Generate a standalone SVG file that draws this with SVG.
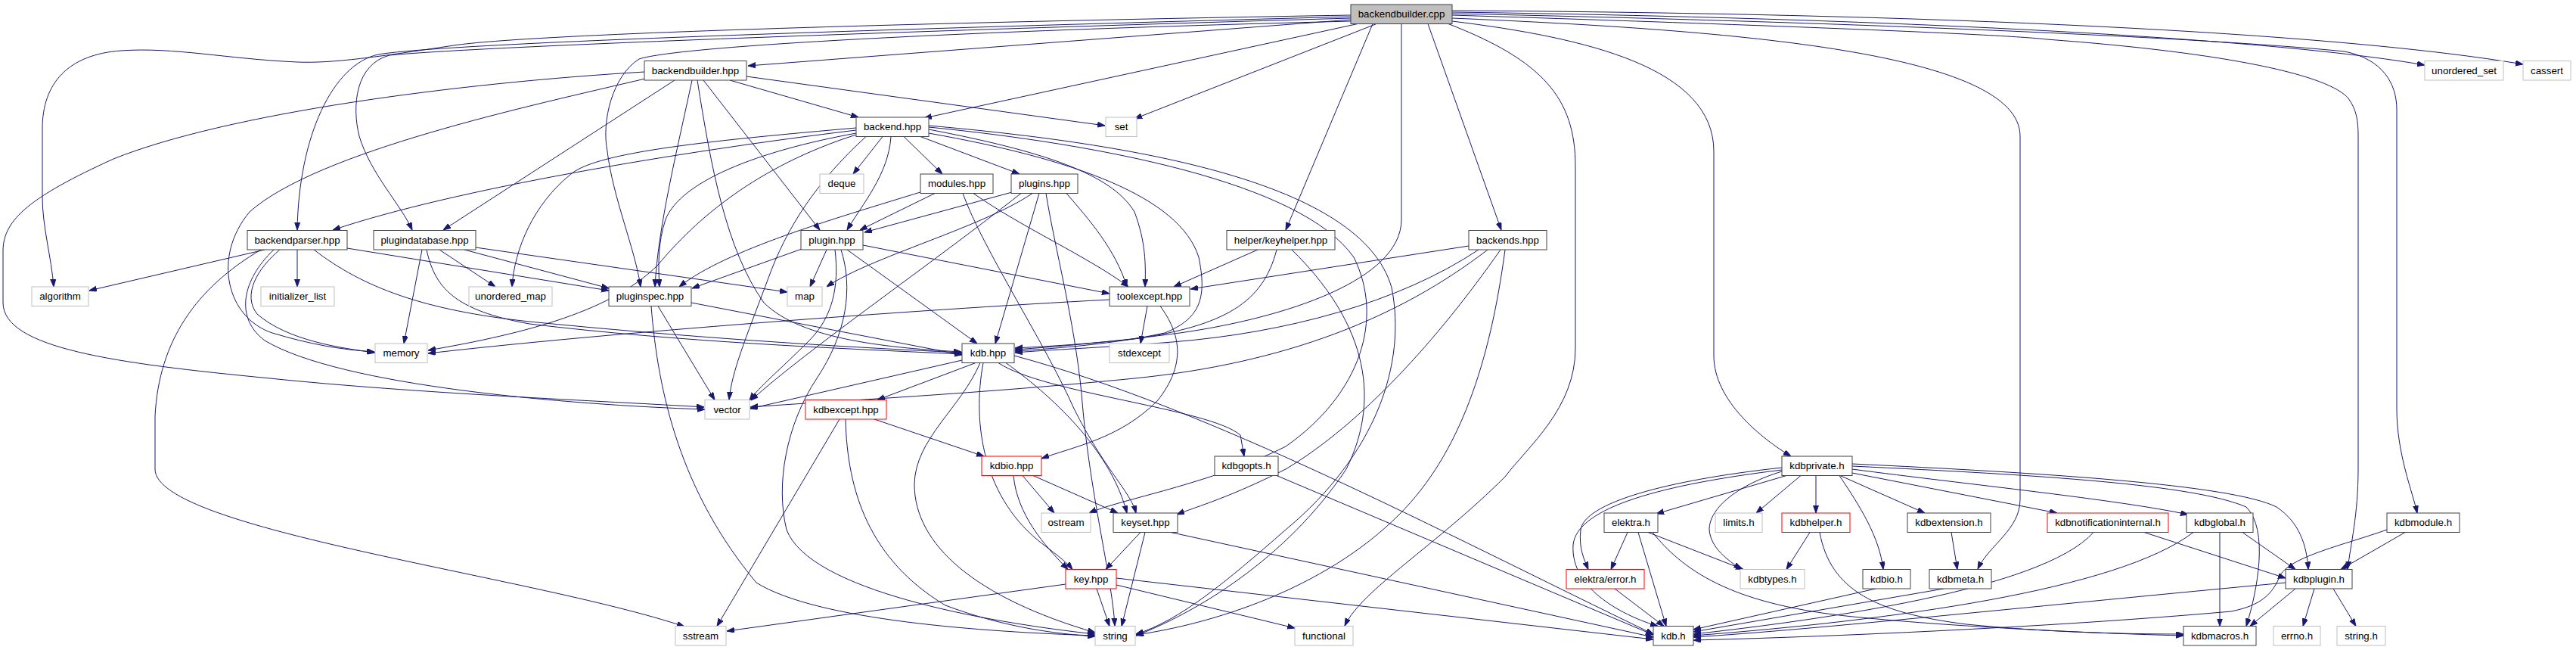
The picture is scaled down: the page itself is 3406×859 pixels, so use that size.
<svg xmlns="http://www.w3.org/2000/svg" width="3406" height="859" viewBox="0 0 3406 859">
<style>
.nd rect{fill:#ffffff;stroke:#404040;stroke-width:1}
.ex rect{fill:#ffffff;stroke:#bfbfbf;stroke-width:1}
.tr rect{fill:#ffffff;stroke:#ff0000;stroke-width:1}
.rt rect{fill:#bfbfbf;stroke:#404040;stroke-width:1}
text{font-family:"Liberation Sans",Arial,Helvetica,sans-serif;font-size:13.3px;text-anchor:middle;fill:#000000}
#edges path{fill:none;stroke:#191970;stroke-width:1;marker-end:url(#ah)}
</style>
<defs>
<marker id="ah" markerWidth="10" markerHeight="8" refX="10" refY="3.5" orient="auto" markerUnits="userSpaceOnUse"><path d="M0,0 L10,3.5 L0,7 z" fill="#191970" stroke="#191970" stroke-width="1"/></marker>
</defs>
<rect x="0" y="0" width="3406" height="859" fill="#ffffff"/>
<g id="edges">
<!-- backendbuilder.cpp -->
<path d="M1786,26 L989,87"/>
<path d="M1820,31.5 L1500,157"/>
<path d="M1795,31.5 L1222,156"/>
<path d="M1786,22 C1300,35 600,55 500,72 C440,85 395,180 393,304"/>
<path d="M1786,24 C1300,38 650,60 515,73 C470,85 465,140 475,180 C490,230 530,270 545,304"/>
<path d="M1786,20 C1200,30 700,45 600,60 C500,75 440,84 393,82 C300,78 230,62 160,67 C90,72 56,110 56,170 L56,260 C56,300 68,340 71,379"/>
<path d="M1786,28 C1300,40 900,60 845,78 C810,100 795,160 803,200 C810,260 840,330 847,379"/>
<path d="M1815,31.5 L1700,304"/>
<path d="M1853,31.5 L1853,290 C1853,370 1700,420 1560,440 C1470,452 1400,458 1342,462"/>
<path d="M1888,31.5 L1985,304"/>
<path d="M1915,31.5 C2040,80 2083,130 2083,220 L2083,460 C2083,540 2020,590 1990,630 C1900,720 1800,780 1778,827"/>
<path d="M1920,28 C2100,50 2266,90 2266,200 L2266,470 C2266,530 2330,580 2368,603"/>
<path d="M1920,24 C2300,40 2671,70 2671,180 L2671,660 C2671,700 2630,720 2615,752"/>
<path d="M1920,20 C2300,32 2650,45 2706,52 C2950,70 3080,100 3105,130 C3116,145 3118,160 3118,180 L3118,620 C3118,680 3108,720 3104,752"/>
<path d="M1920,18 C2400,28 2900,48 3100,68 C3150,78 3169,110 3169,145 L3169,540 C3169,600 3190,650 3196,678"/>
<path d="M1920,16 C2500,24 3000,50 3206,86"/>
<path d="M1920,14 C2600,18 3100,45 3336,85"/>
<!-- backendbuilder.hpp -->
<path d="M965,106 L1135,155"/>
<path d="M987,101 L1461,166"/>
<path d="M930,106 L1084,304"/>
<path d="M915,106 C895,200 870,300 866,379"/>
<path d="M922,106 C940,220 960,330 1010,400 C1060,450 1180,460 1271,465"/>
<path d="M892,106 L586,304"/>
<path d="M853,104 C700,140 420,200 330,280 C280,340 300,420 360,440 C410,455 450,462 495,465"/>
<path d="M852,95 C600,110 300,150 150,210 C40,260 5,290 4,330 L4,400 C4,460 150,480 357,500 C550,520 800,530 931,538"/>
<!-- backend.hpp -->
<path d="M1167,180.5 L1128,230"/>
<path d="M1195,180.5 L1246,230"/>
<path d="M1217,180.5 L1348,230"/>
<path d="M1178,180.5 C1175,230 1140,270 1120,304"/>
<path d="M1132,172 C900,200 600,250 440,304"/>
<path d="M1132,169 C950,185 790,200 755,230 C705,270 680,330 677,379"/>
<path d="M1132,176 C1000,200 900,240 880,290 C870,320 870,350 872,379"/>
<path d="M1132,178 C1000,220 920,290 870,350 C810,410 700,440 566,463"/>
<path d="M1145,180.5 C1080,240 1040,300 1015,370 C985,450 968,490 964,528"/>
<path d="M1228,171 C1380,200 1470,230 1500,280 C1515,320 1515,350 1514,379"/>
<path d="M1228,176 C1420,210 1560,260 1585,340 C1595,390 1590,420 1540,440 C1470,455 1400,460 1342,464"/>
<path d="M1228,166 C1500,190 1800,240 1840,380 C1860,480 1820,600 1700,700 C1620,770 1560,820 1502,838"/>
<path d="M1228,168 C1450,190 1720,240 1790,340 C1830,420 1800,520 1700,590 C1600,640 1480,660 1440,678"/>
<!-- modules.hpp -->
<path d="M1220,253 C1100,290 960,330 898,379"/>
<path d="M1236,255.5 L1137,304"/>
<path d="M1273,255.5 C1300,330 1380,450 1420,540 C1460,620 1495,650 1502,678"/>
<path d="M1287,255.5 C1350,300 1440,340 1492,379"/>
<!-- plugins.hpp -->
<path d="M1338,254 L1143,307"/>
<path d="M1350,255.5 C1230,350 1070,460 993,529"/>
<path d="M1365,255.5 C1300,300 1150,340 1093,379"/>
<path d="M1374,255.5 L1316,454"/>
<path d="M1383,255.5 C1395,330 1420,420 1430,520 C1440,650 1470,760 1474,827"/>
<path d="M1410,255.5 C1440,290 1475,330 1490,379"/>
<!-- plugin.hpp -->
<path d="M1060,329 L915,381"/>
<path d="M1093,330 L1071,379"/>
<path d="M1104,330 C1110,380 1100,420 1070,450 C1030,490 1005,510 991,529"/>
<path d="M1112,330 C1128,380 1120,440 1080,500 C1040,560 1025,640 1040,700 C1070,780 1300,822 1448,838"/>
<path d="M1120,330 L1292,454"/>
<path d="M1141,324 L1467,388"/>
<!-- backendparser.hpp -->
<path d="M350,330 L118,384"/>
<path d="M393,330 L393,379"/>
<path d="M370,330 C340,355 320,390 340,415 C380,450 450,460 496,466"/>
<path d="M362,330 C320,370 310,420 350,450 C450,510 750,535 932,541"/>
<path d="M345,330 C260,380 210,450 205,550 L205,620 C205,700 700,760 905,828"/>
<path d="M415,330 C480,380 560,410 700,425 C900,445 1100,458 1272,466"/>
<path d="M459,328 L805,384"/>
<!-- plugindatabase.hpp -->
<path d="M581,330 L655,379"/>
<path d="M558,330 L534,454"/>
<path d="M564,330 C575,380 600,410 700,428 C900,452 1100,460 1272,468"/>
<path d="M629,327 L1041,386"/>
<path d="M614,330 L805,381"/>
<!-- pluginspec.hpp -->
<path d="M870,404.5 L945,528.5"/>
<path d="M861,404.5 C870,520 900,650 1000,770 C1080,820 1300,835 1448,840"/>
<path d="M914,400 L1272,469"/>
<!-- toolexcept.hpp -->
<path d="M1467,396 C1200,410 800,440 566,467"/>
<path d="M1517,404.5 L1508,454"/>
<path d="M1534,404.5 C1560,440 1570,480 1530,530 C1480,580 1420,590 1377,606"/>
<!-- kdb.hpp -->
<path d="M1272,476 L992,540"/>
<path d="M1290,479.5 L1160,528.5"/>
<path d="M1320,479.5 C1380,520 1600,540 1640,575 L1645,603"/>
<path d="M1330,479.5 C1400,530 1470,600 1490,678"/>
<path d="M1300,479.5 C1285,560 1300,660 1380,720 C1400,735 1412,745 1418,752.5"/>
<path d="M1296,479.5 C1270,540 1210,580 1209,640 C1209,720 1290,790 1448,836"/>
<path d="M1341,470 C1600,540 1900,700 2186,838"/>
<!-- kdbexcept.hpp -->
<path d="M1156,554 L1301,603"/>
<path d="M1110,554 L948,827.5"/>
<path d="M1118,554 C1120,650 1150,740 1250,800 C1330,830 1400,838 1448,841"/>
<!-- kdbio.hpp -->
<path d="M1352,628.5 L1394,678"/>
<path d="M1366,628.5 L1478,678"/>
<path d="M1340,628.5 C1345,680 1380,720 1412,752.5"/>
<!-- kdbgopts.h -->
<path d="M1688,628.5 L2186,839"/>
<!-- keyset.hpp -->
<path d="M1508,703.5 L1462,752.5"/>
<path d="M1514,703.5 L1483,827.5"/>
<path d="M1548,703.5 L2186,842"/>
<!-- key.hpp -->
<path d="M1409,772 L961,834"/>
<path d="M1450,778 L1467,827.5"/>
<path d="M1476,773 L1712,830"/>
<path d="M1476,764 L2186,845"/>
<!-- helper/keyhelper.hpp -->
<path d="M1663,330 L1552,379"/>
<path d="M1688,330 C1670,400 1620,430 1500,448 C1420,456 1380,458 1342,460"/>
<path d="M1708,330 C1800,420 1830,520 1780,620 C1700,740 1580,810 1502,840"/>
<!-- backends.hpp -->
<path d="M1942,325 L1574,382"/>
<path d="M1967,330 C1850,420 1700,480 1500,500 C1300,520 1100,530 992,538"/>
<path d="M1984,330 C1900,450 1800,560 1700,620 C1620,660 1580,670 1556,680"/>
<path d="M1990,330 C1970,480 1930,600 1850,680 C1750,780 1600,825 1502,839"/>
<path d="M1955,330 C1850,400 1700,440 1550,452 C1450,460 1390,462 1342,466"/>
<!-- kdbprivate.h -->
<path d="M2362,628.5 L2190,679"/>
<path d="M2381,628.5 L2322,678"/>
<path d="M2401,628.5 L2401,678"/>
<path d="M2433,628.5 L2545,678"/>
<path d="M2449,625 L2720,678"/>
<path d="M2449,620 C2600,640 2800,660 2893,680"/>
<path d="M2449,613 C2700,625 2950,640 3010,670 C3040,690 3050,720 3052,752.5"/>
<path d="M2449,616 C2700,628 2900,640 2970,670 C3000,700 2985,780 2970,827.5"/>
<path d="M2432,628.5 C2460,670 2485,710 2490,752.5"/>
<path d="M2356,623 C2300,640 2260,670 2260,700 C2262,725 2285,740 2302,752.5"/>
<path d="M2356,618 C2200,635 2095,665 2090,700 C2087,725 2095,740 2100,752.5"/>
<path d="M2356,621 C2200,640 2085,670 2080,720 C2076,780 2150,815 2192,827.5"/>
<!-- elektra.h -->
<path d="M2152,703.5 L2130,752.5"/>
<path d="M2179,703.5 L2305,752.5"/>
<path d="M2166,703.5 L2203,827.5"/>
<path d="M2185,703.5 C2230,760 2300,800 2450,815 C2600,830 2800,838 2887,840"/>
<!-- kdbhelper.h -->
<path d="M2393,703.5 L2362,752.5"/>
<path d="M2406,703.5 C2420,780 2480,810 2600,825 C2700,835 2800,838 2887,838"/>
<!-- kdbextension.h -->
<path d="M2580,703.5 L2588,752.5"/>
<!-- kdbnotificationinternal.h -->
<path d="M2768,703.5 C2700,780 2400,820 2239,838"/>
<path d="M2835,703.5 L3022,764"/>
<!-- kdbglobal.h -->
<path d="M2900,703.5 C2800,780 2500,820 2239,840"/>
<path d="M2935,703.5 L2935,827.5"/>
<path d="M2965,703.5 L3035,752.5"/>
<!-- kdbmodule.h -->
<path d="M3180,703.5 L3095,752.5"/>
<path d="M3156,700 C3100,720 3030,735 3015,760 C3005,785 2990,800 2950,808 C2700,830 2400,842 2239,846"/>
<!-- kdbplugin.h -->
<path d="M3022,770 C2700,800 2400,832 2239,842"/>
<path d="M3035,778 L2975,827.5"/>
<path d="M3060,778 L3045,827.5"/>
<path d="M3085,778 L3115,827.5"/>
<!-- leaf h headers -->
<path d="M2135,778 L2200,827.5"/>
<path d="M2480,778 L2239,832"/>
<path d="M2570,778 L2239,835"/>
</g>
<g id="n0" class="rt"><rect x="1786" y="6" width="134" height="25.5"/><text x="1853" y="23.4">backendbuilder.cpp</text></g>
<g id="n1" class="nd"><rect x="852" y="80.5" width="135" height="25.5"/><text x="919.5" y="97.9">backendbuilder.hpp</text></g>
<g id="n2" class="ex"><rect x="1462" y="155" width="41" height="25.5"/><text x="1482.5" y="172.4">set</text></g>
<g id="n3" class="nd"><rect x="1132" y="155" width="96" height="25.5"/><text x="1180" y="172.4">backend.hpp</text></g>
<g id="n4" class="ex"><rect x="1084" y="230" width="58" height="25.5"/><text x="1113" y="247.4">deque</text></g>
<g id="n5" class="nd"><rect x="1217" y="230" width="96" height="25.5"/><text x="1265" y="247.4">modules.hpp</text></g>
<g id="n6" class="nd"><rect x="1337" y="230" width="88" height="25.5"/><text x="1381" y="247.4">plugins.hpp</text></g>
<g id="n7" class="nd"><rect x="327" y="304.5" width="132" height="25.5"/><text x="393" y="321.9">backendparser.hpp</text></g>
<g id="n8" class="nd"><rect x="494" y="304.5" width="135" height="25.5"/><text x="561.5" y="321.9">plugindatabase.hpp</text></g>
<g id="n9" class="nd"><rect x="1059" y="304.5" width="82" height="25.5"/><text x="1100" y="321.9">plugin.hpp</text></g>
<g id="n10" class="nd"><rect x="1622" y="304.5" width="143" height="25.5"/><text x="1693.5" y="321.9">helper/keyhelper.hpp</text></g>
<g id="n11" class="nd"><rect x="1942" y="304.5" width="103" height="25.5"/><text x="1993.5" y="321.9">backends.hpp</text></g>
<g id="n12" class="ex"><rect x="42" y="379" width="75" height="25.5"/><text x="79.5" y="396.4">algorithm</text></g>
<g id="n13" class="ex"><rect x="345" y="379" width="97" height="25.5"/><text x="393.5" y="396.4">initializer_list</text></g>
<g id="n14" class="ex"><rect x="620" y="379" width="110" height="25.5"/><text x="675" y="396.4">unordered_map</text></g>
<g id="n15" class="nd"><rect x="805" y="379" width="109" height="25.5"/><text x="859.5" y="396.4">pluginspec.hpp</text></g>
<g id="n16" class="ex"><rect x="1041" y="379" width="46" height="25.5"/><text x="1064" y="396.4">map</text></g>
<g id="n17" class="nd"><rect x="1467" y="379" width="106" height="25.5"/><text x="1520" y="396.4">toolexcept.hpp</text></g>
<g id="n18" class="ex"><rect x="496" y="454" width="69" height="25.5"/><text x="530.5" y="471.4">memory</text></g>
<g id="n19" class="nd"><rect x="1272" y="454" width="69" height="25.5"/><text x="1306.5" y="471.4">kdb.hpp</text></g>
<g id="n20" class="ex"><rect x="1467" y="454" width="79" height="25.5"/><text x="1506.5" y="471.4">stdexcept</text></g>
<g id="n21" class="ex"><rect x="932" y="528.5" width="59" height="25.5"/><text x="961.5" y="545.9">vector</text></g>
<g id="n22" class="tr"><rect x="1065" y="528.5" width="107" height="25.5"/><text x="1118.5" y="545.9">kdbexcept.hpp</text></g>
<g id="n23" class="tr"><rect x="1298" y="603" width="79" height="25.5"/><text x="1337.5" y="620.4">kdbio.hpp</text></g>
<g id="n24" class="nd"><rect x="1606" y="603" width="84" height="25.5"/><text x="1648" y="620.4">kdbgopts.h</text></g>
<g id="n25" class="nd"><rect x="2356" y="603" width="93" height="25.5"/><text x="2402.5" y="620.4">kdbprivate.h</text></g>
<g id="n26" class="ex"><rect x="1377" y="678" width="65" height="25.5"/><text x="1409.5" y="695.4">ostream</text></g>
<g id="n27" class="nd"><rect x="1472" y="678" width="85" height="25.5"/><text x="1514.5" y="695.4">keyset.hpp</text></g>
<g id="n28" class="nd"><rect x="2121" y="678" width="71" height="25.5"/><text x="2156.5" y="695.4">elektra.h</text></g>
<g id="n29" class="ex"><rect x="2268" y="678" width="62" height="25.5"/><text x="2299" y="695.4">limits.h</text></g>
<g id="n30" class="tr"><rect x="2356" y="678" width="90" height="25.5"/><text x="2401" y="695.4">kdbhelper.h</text></g>
<g id="n31" class="nd"><rect x="2522" y="678" width="110" height="25.5"/><text x="2577" y="695.4">kdbextension.h</text></g>
<g id="n32" class="tr"><rect x="2707" y="678" width="160" height="25.5"/><text x="2787" y="695.4">kdbnotificationinternal.h</text></g>
<g id="n33" class="nd"><rect x="2891" y="678" width="88" height="25.5"/><text x="2935" y="695.4">kdbglobal.h</text></g>
<g id="n34" class="nd"><rect x="3156" y="678" width="96" height="25.5"/><text x="3204" y="695.4">kdbmodule.h</text></g>
<g id="n35" class="tr"><rect x="1409" y="752.5" width="67" height="25.5"/><text x="1442.5" y="769.9">key.hpp</text></g>
<g id="n36" class="tr"><rect x="2071" y="752.5" width="103" height="25.5"/><text x="2122.5" y="769.9">elektra/error.h</text></g>
<g id="n37" class="ex"><rect x="2301" y="752.5" width="85" height="25.5"/><text x="2343.5" y="769.9">kdbtypes.h</text></g>
<g id="n38" class="nd"><rect x="2463" y="752.5" width="63" height="25.5"/><text x="2494.5" y="769.9">kdbio.h</text></g>
<g id="n39" class="nd"><rect x="2551" y="752.5" width="82" height="25.5"/><text x="2592" y="769.9">kdbmeta.h</text></g>
<g id="n40" class="nd"><rect x="3022" y="752.5" width="88" height="25.5"/><text x="3066" y="769.9">kdbplugin.h</text></g>
<g id="n41" class="ex"><rect x="893" y="827.5" width="67" height="25.5"/><text x="926.5" y="844.9">sstream</text></g>
<g id="n42" class="ex"><rect x="1448" y="827.5" width="53" height="25.5"/><text x="1474.5" y="844.9">string</text></g>
<g id="n43" class="ex"><rect x="1712" y="827.5" width="77" height="25.5"/><text x="1750.5" y="844.9">functional</text></g>
<g id="n44" class="nd"><rect x="2186" y="827.5" width="53" height="25.5"/><text x="2212.5" y="844.9">kdb.h</text></g>
<g id="n45" class="nd"><rect x="2887" y="827.5" width="96" height="25.5"/><text x="2935" y="844.9">kdbmacros.h</text></g>
<g id="n46" class="ex"><rect x="3006" y="827.5" width="62" height="25.5"/><text x="3037" y="844.9">errno.h</text></g>
<g id="n47" class="ex"><rect x="3090" y="827.5" width="64" height="25.5"/><text x="3122" y="844.9">string.h</text></g>
<g id="n48" class="ex"><rect x="3206" y="80.5" width="104" height="25.5"/><text x="3258" y="97.9">unordered_set</text></g>
<g id="n49" class="ex"><rect x="3336" y="80.5" width="63" height="25.5"/><text x="3367.5" y="97.9">cassert</text></g>
</svg>
